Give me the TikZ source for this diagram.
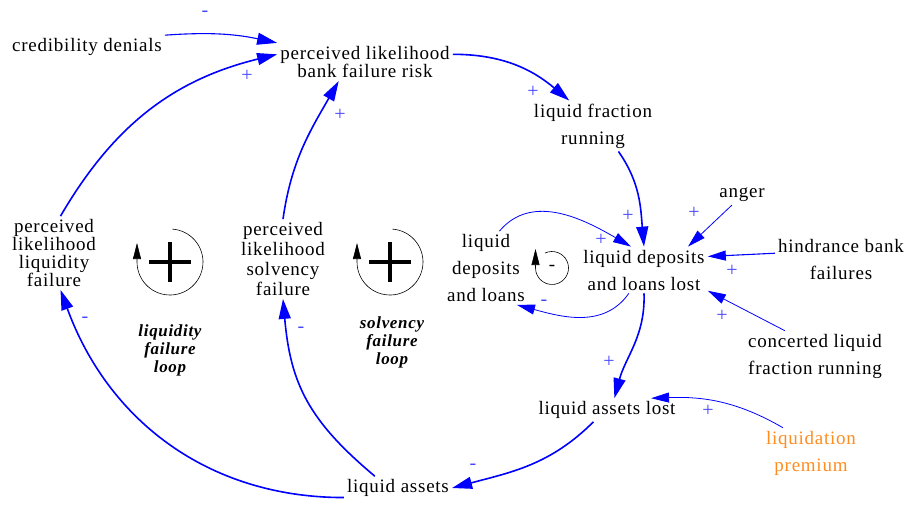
\documentclass[tikz,border=0pt]{standalone}
\usepackage{fontspec}
\setmainfont{Liberation Serif}[LetterSpace=4]
\usepackage{xcolor}
\usetikzlibrary{arrows.meta}

\definecolor{linkblue}{RGB}{0,0,255}
\definecolor{polblue}{RGB}{70,70,255}
\definecolor{premorange}{RGB}{255,140,30}

\begin{document}
\begin{tikzpicture}[x=1pt, y=1pt,
    var/.style={align=center, inner sep=3pt, font=\fontsize{19}{27}\selectfont},
    link/.style={linkblue, line width=1.6pt, -{Triangle[length=20pt,width=12pt]}},
    thinlink/.style={linkblue, line width=0.8pt, -{Triangle[length=18pt,width=10pt]}},
    pol/.style={polblue, inner sep=0pt, font=\fontsize{20}{20}\selectfont},
    loopname/.style={align=center, font=\fontsize{17}{18}\selectfont\bfseries\itshape},
    loopline/.style={black, line width=0.6pt, -{Triangle[length=16pt,width=8pt]}}]
    \useasboundingbox (0,-504) rectangle (915,0);

    % variables
    \node[var] (cred) at (87,-47) {credibility denials};
    \node[var, font=\fontsize{19}{15}\selectfont] (risk) at (365,-62) {perceived likelihood\\bank failure risk};
    \node[var] (frac) at (593,-126) {liquid fraction\\running};
    \node[var] (lost) at (644,-270) {liquid deposits\\and loans lost};
    \node[var] (anger) at (742,-195) {anger};
    \node[var] (hind) at (841,-259) {hindrance bank\\failures};
    \node[var] (conc) at (815,-356) {concerted liquid\\fraction running};
    \node[var] (dep) at (486,-268) {liquid\\deposits\\and loans};
    \node[var] (alost) at (607,-410) {liquid assets lost};
    \node[var, text=premorange] (prem) at (811,-453) {liquidation\\premium};
    \node[var] (assets) at (398,-488) {liquid assets};
    \node[var, font=\fontsize{19}{18}\selectfont] (liqf) at (54,-253) {perceived\\likelihood\\liquidity\\failure};
    \node[var, font=\fontsize{19}{20}\selectfont] (solvf) at (283,-259) {perceived\\likelihood\\solvency\\failure};

    % links
    \draw[link, line width=1.1pt] (cred.north east) to[bend left=8] (risk.north west);
    \draw[link] (liqf.80) to[bend left=23] (risk.175);
    \draw[link] (solvf.north) to[out=82, in=240] (risk.216);
    \draw[link] (risk.5) to[out=0, in=140] (frac.133);
    \draw[link] (frac.-45) to[out=-55, in=95] (lost.north);
    \draw[thinlink] (dep.70) to[out=50, in=150] (lost.119);
    \draw[thinlink] (anger.225) -- (lost.28);
    \draw[thinlink, line width=1.1pt] (hind.175) -- (lost.12);
    \draw[thinlink] (conc.140) -- (lost.-18);
    \draw[thinlink] (lost.237) to[out=235, in=-15] (dep.-50);
    \draw[link] (lost.south) to[out=-88, in=75] (alost.58);
    \draw[thinlink] (prem.138) to[out=150, in=2] (alost.15);
    \draw[link] (alost.221) to[out=225, in=15] (assets.east);
    \draw[link] (assets.190) to[out=180, in=-70] (liqf.-80);
    \draw[link] (assets.153) to[out=140, in=-85, looseness=1.1] (solvf.south);

    % polarities
    \foreach \px/\py/\s [count=\n] in {205/14/-, 247/76/+, 340/115/+, 533/92/+, 628/216/+,
        601/240/+, 694/213/+, 732/271/+, 722/316/+, 544/303/-, 609/362/+, 708/411/+,
        473/467/-, 85/320/-, 301/330/-} {
        \node[pol] (pol\n) at (\px,-\py) {\s};
    }

    % loop markers
    \coordinate (liqloop) at (170,-262);
    \coordinate (solvloop) at (390,-262);
    \coordinate (deploop) at (552,-268);
    \foreach \c in {liqloop, solvloop} {
        \draw[loopline] ([shift={(86:33)}]\c) arc[start angle=86, end angle=-180, radius=33] -- ++(0,19);
        \draw[line width=3.2pt] ([xshift=-21pt]\c) -- ([xshift=21pt]\c);
        \draw[line width=3.2pt] ([yshift=-20pt]\c) -- ([yshift=20pt]\c);
    }
    \draw[loopline] ([shift={(115:16.5)}]deploop) arc[start angle=115, end angle=-180, radius=16.5] -- ++(0,19);
    \node[font=\fontsize{19}{19}\selectfont, inner sep=0pt] (depsign) at (deploop) {-};
    \node[loopname] (liqname) at (170,-350) {liquidity\\failure\\loop};
    \node[loopname] (solvname) at (392,-342) {solvency\\failure\\loop};
\end{tikzpicture}
\end{document}
